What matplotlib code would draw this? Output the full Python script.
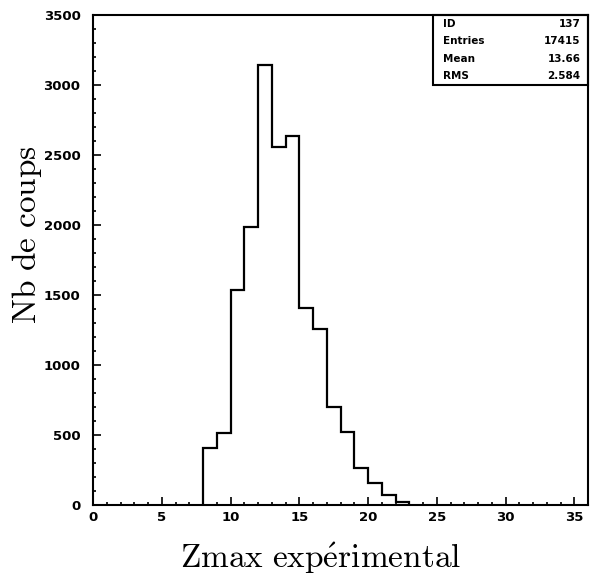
import numpy as np
import matplotlib
matplotlib.use("Agg")
import matplotlib.pyplot as plt
from matplotlib.ticker import MultipleLocator

plt.rcParams["mathtext.fontset"] = "cm"

# histogramme Zmax (bins de largeur 1, de 8 a 23)
zmax_edges = [8, 9, 10, 11, 12, 13, 14, 15, 16, 17, 18, 19, 20, 21, 22, 23]
nb_coups = [405, 512, 1536, 1985, 3143, 2560, 2636, 1405, 1255, 698, 524, 262, 160, 71, 25]

stat_names = ["ID", "Entries", "Mean", "RMS"]
stat_values = ["137", "17415", "13.66", "2.584"]

x_ticks = [0, 5, 10, 15, 20, 25, 30, 35]
y_ticks = [0, 500, 1000, 1500, 2000, 2500, 3000, 3500]

fig = plt.figure(figsize=(6.01, 5.81), dpi=100)
ax = fig.add_axes([93 / 601, 76 / 581, 495 / 601, 490 / 581])

ax.stairs(nb_coups, zmax_edges, color="black", linewidth=1.6)

ax.set_xlim(0, 36)
ax.set_ylim(0, 3500)
ax.set_xticks(x_ticks)
ax.set_yticks(y_ticks)
ax.xaxis.set_minor_locator(MultipleLocator(1))
ax.yaxis.set_minor_locator(MultipleLocator(100))
ax.tick_params(which="both", direction="in", top=False, right=False,
               width=1.2, labelsize=9.5)
ax.tick_params(which="major", length=5.5)
ax.tick_params(which="minor", length=2.5)
ax.tick_params(axis="x", pad=4)
ax.tick_params(axis="y", pad=9)
for lab in ax.get_xticklabels() + ax.get_yticklabels():
    lab.set_fontweight("bold")
for sp in ax.spines.values():
    sp.set_linewidth(1.5)

ax.set_xlabel(r"$\mathrm{Zmax\ exp\acute{e}rimental}$", fontsize=24)
ax.set_ylabel(r"$\mathrm{Nb\ de\ coups}$", fontsize=24)
ax.xaxis.set_label_coords(0.459, -0.108)
ax.yaxis.set_label_coords(-0.133, 0.551)
ax.xaxis.label.set_va("center")
ax.yaxis.label.set_va("center")

# boite de statistiques en haut a droite
x0, y0 = 0.687, 0.857
ax.add_patch(plt.Rectangle((x0, y0), 1 - x0, 1 - y0, transform=ax.transAxes,
                           fill=False, edgecolor="black", linewidth=1.5, clip_on=False))
row_h = (1 - y0) / 4
for i, (name, val) in enumerate(zip(stat_names, stat_values)):
    yy = 1 - row_h * (i + 0.5)
    ax.text(x0 + 0.02, yy, name, transform=ax.transAxes, fontsize=7.5,
            fontweight="bold", va="center", ha="left")
    ax.text(0.985, yy, val, transform=ax.transAxes, fontsize=7.5,
            fontweight="bold", va="center", ha="right")

fig.savefig("out.png", dpi=100)
